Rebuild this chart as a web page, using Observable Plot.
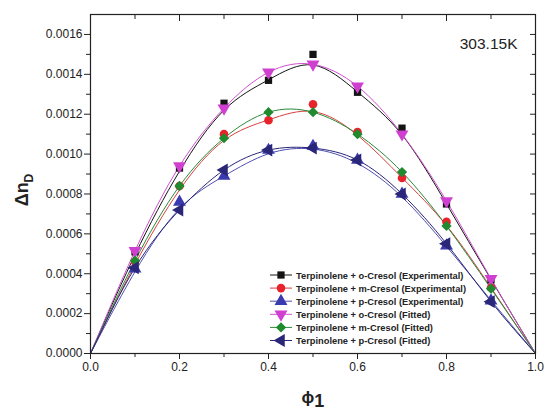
<!DOCTYPE html>
<html>
<head>
<meta charset="utf-8">
<script src="https://cdn.jsdelivr.net/npm/d3@7"></script>
<script src="https://cdn.jsdelivr.net/npm/@observablehq/plot@0.6"></script>
<style>
  html, body { margin: 0; padding: 0; background: #fff; }
  #chart { position: relative; width: 545px; height: 413px; }
</style>
</head>
<body>
<div id="chart"></div>
<script>
// ---- data ----
const phi = [0, 0.1, 0.2, 0.3, 0.4, 0.5, 0.6, 0.7, 0.8, 0.9, 1.0];
const oCresolExp = [0, 0.00051, 0.00093, 0.001255, 0.00137, 0.0015, 0.00131, 0.00113, 0.00075, 0.00037, 0];
const mCresolExp = [0, 0.00046, 0.00084, 0.00110, 0.00117, 0.00125, 0.00111, 0.00088, 0.00066, 0.00033, 0];
const pCresolExp = [0, 0.000425, 0.00076, 0.00089, 0.00102, 0.00104, 0.00097, 0.00080, 0.00054, 0.000265, 0];
const oCresolFit = [0, 0.000515, 0.00094, 0.00123, 0.00141, 0.00145, 0.00134, 0.00110, 0.000765, 0.000375, 0];
const mCresolFit = [0, 0.000465, 0.00084, 0.00108, 0.00121, 0.00121, 0.00110, 0.00091, 0.00064, 0.000325, 0];
const pCresolFit = [0, 0.00043, 0.00072, 0.00092, 0.00102, 0.00103, 0.00097, 0.00080, 0.00055, 0.00026, 0];
const seriesNames = [
  "Terpinolene + o-Cresol (Experimental)",
  "Terpinolene + m-Cresol (Experimental)",
  "Terpinolene + p-Cresol (Experimental)",
  "Terpinolene + o-Cresol (Fitted)",
  "Terpinolene + m-Cresol (Fitted)",
  "Terpinolene + p-Cresol (Fitted)"
];
const yTicks = [0, 0.0002, 0.0004, 0.0006, 0.0008, 0.0010, 0.0012, 0.0014, 0.0016];
const yMinorTicks = [0.0001, 0.0003, 0.0005, 0.0007, 0.0009, 0.0011, 0.0013, 0.0015];
const xTicks = [0, 0.2, 0.4, 0.6, 0.8, 1.0];
const xMinorTicks = [0.1, 0.3, 0.5, 0.7, 0.9];
const temperatureLabel = "303.15K";

// ---- styles ----
const styles = [
  {color: "#141414", line: "#141414", symbol: "square", rotate: 0, curve: "basis", r: 4.1},
  {color: "#e8232b", line: "#d84040", symbol: "circle", rotate: 0, curve: "basis", r: 4.3},
  {color: "#3a3ab0", line: "#5050b0", symbol: "triangle", rotate: 0, curve: "basis", r: 4.8},
  {color: "#d040d0", line: "#d050d0", symbol: "triangle", rotate: 180, curve: "natural", r: 4.8},
  {color: "#1f8a2e", line: "#2a8a3a", symbol: "diamond", rotate: 45, curve: "natural", r: 4.1},
  {color: "#2a2678", line: "#2a2678", symbol: "triangle", rotate: -90, curve: "natural", r: 4.8}
];
const allSeries = [oCresolExp, mCresolExp, pCresolExp, oCresolFit, mCresolFit, pCresolFit];
const rows = allSeries.map((vals, s) => phi.map((x, i) => ({x, y: vals[i], s})));

const font = "'Liberation Sans', Arial, sans-serif";
const marks = [];
rows.forEach((r, s) => {
  const st = styles[s];
  marks.push(Plot.line(r, {x: "x", y: "y", stroke: st.line, strokeWidth: 1, curve: st.curve}));
});
rows.forEach((r, s) => {
  const st = styles[s];
  marks.push(Plot.dot(r.filter(d => d.x > 0 && d.x < 1), {
    x: "x", y: "y", symbol: st.symbol === "diamond" ? "square" : st.symbol,
    fill: st.color, stroke: "none", r: st.r, rotate: st.rotate
  }));
});

const chart = Plot.plot({
  width: 545, height: 413,
  marginLeft: 90, marginRight: 10, marginTop: 14, marginBottom: 60,
  style: {fontFamily: font, fontSize: "12px", color: "#222", background: "#fff"},
  x: {domain: [0, 1]},
  y: {domain: [0, 0.0017]},
  marks: [
    ...marks,
    Plot.frame({stroke: "#222", strokeWidth: 1.2}),
    Plot.axisY({ticks: yTicks, tickFormat: d => d.toFixed(4), tickSize: 6, tickPadding: 2, label: null, fontSize: 12}),
    Plot.axisY({ticks: yMinorTicks, tickFormat: () => "", tickSize: 4, label: null}),
    Plot.axisY({anchor: "right", ticks: yTicks, tickFormat: () => "", tickSize: -6, label: null}),
    Plot.axisY({anchor: "right", ticks: yMinorTicks, tickFormat: () => "", tickSize: -4, label: null}),
    Plot.axisX({ticks: xTicks, tickFormat: d => d.toFixed(1), tickSize: 6, tickPadding: 3, label: null, fontSize: 12}),
    Plot.axisX({ticks: xMinorTicks, tickFormat: () => "", tickSize: 4, label: null}),
    Plot.axisX({anchor: "top", ticks: xTicks, tickFormat: () => "", tickSize: -6, label: null}),
    Plot.axisX({anchor: "top", ticks: xMinorTicks, tickFormat: () => "", tickSize: -4, label: null}),
    Plot.text([temperatureLabel], {frameAnchor: "top-right", textAnchor: "end", dx: -18, dy: 23, text: d => d, fontSize: 15.5, fill: "#222"})
  ]
});

const svg = d3.select(chart);
// axis labels
const yl = svg.append("text")
  .attr("transform", "translate(28,190) rotate(-90)")
  .attr("text-anchor", "middle")
  .attr("font-family", font).attr("font-weight", "bold").attr("font-size", 18).attr("fill", "#222");
yl.append("tspan").text("Δn");
yl.append("tspan").attr("font-size", 12).attr("dy", 5).text("D");

const xl = svg.append("text")
  .attr("x", 313).attr("y", 403)
  .attr("text-anchor", "middle")
  .attr("font-family", font).attr("font-weight", "bold").attr("fill", "#222");
xl.append("tspan").attr("font-size", 17).text("ϕ");
xl.append("tspan").attr("font-size", 18).attr("dy", 4).text("1");

// legend
const lg = svg.append("g").attr("transform", "translate(270,275)");
seriesNames.forEach((name, i) => {
  const st = styles[i];
  const g = lg.append("g").attr("transform", `translate(0,${i * 13.1})`);
  g.append("line").attr("x1", 0).attr("x2", 22).attr("y1", 0).attr("y2", 0)
    .attr("stroke", st.line).attr("stroke-width", 1);
  const sym = {square: d3.symbolSquare, circle: d3.symbolCircle, triangle: d3.symbolTriangle, diamond: d3.symbolSquare}[st.symbol];
  g.append("path").attr("d", d3.symbol(sym, Math.PI * st.r * st.r)())
    .attr("transform", `translate(11,0) rotate(${st.rotate})`)
    .attr("fill", st.color);
  g.append("text").attr("x", 26).attr("y", 3.5).attr("text-anchor", "start")
    .attr("font-family", font).attr("font-weight", "bold").attr("font-size", 9.3).attr("fill", "#222")
    .text(name);
});

document.getElementById("chart").appendChild(chart);
</script>
</body>
</html>
